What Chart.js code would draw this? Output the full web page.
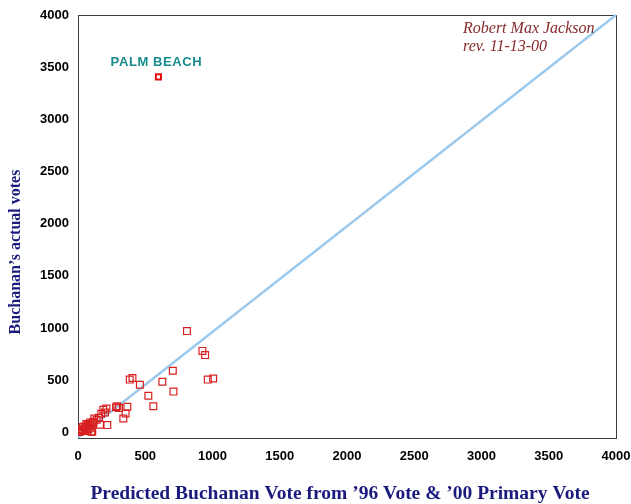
<!DOCTYPE html>
<html>
<head>
<meta charset="utf-8">
<script src="https://cdn.jsdelivr.net/npm/chart.js@4/dist/chart.umd.min.js"></script>
<style>
  html, body { margin: 0; padding: 0; background: #ffffff; }
  #wrap { width: 631px; height: 504px; position: relative; }
</style>
</head>
<body>
<div id="wrap"><canvas id="c"></canvas></div>
<script>
// Counties: predicted Buchanan vote (from '96 vote & '00 primary) vs. actual vote
const predictedVotes = [810, 925, 945, 705, 965, 1005, 385, 405, 460, 627, 710, 523, 560, 367, 292,
  283, 305, 354, 337, 211, 201, 188, 156, 173, 121, 139, 218, 164, 109, 106, 74, 57, 94, 40, 106,
  20, 69, 99, 7, 30, 48, 85, 62, 25, 12, 35, 78, 115, 52, 90];
const actualVotes = [970, 780, 740, 590, 505, 515, 505, 520, 455, 485, 390, 350, 250, 245, 250,
  240, 232, 180, 132, 228, 190, 216, 139, 177, 132, 120, 69, 72, 88, 84, 69, 43, 43, 21, 8,
  10, 12, 5, 2, 30, 55, 60, 80, 15, 8, 50, 30, 100, 20, 95];

// Palm Beach county, the outlier
const palmBeachPredicted = 598;
const palmBeachActual = 3407;

// Reference line: predicted equals actual
const refLineX = [0, 4000];
const refLineY = [-50, 4000];

// Axis ticks
const xTicks = [0, 500, 1000, 1500, 2000, 2500, 3000, 3500, 4000];
const yTicks = [0, 500, 1000, 1500, 2000, 2500, 3000, 3500, 4000];

const countyPoints = predictedVotes.map((x, i) => ({ x: x, y: actualVotes[i] }));
const refLine = refLineX.map((x, i) => ({ x: x, y: refLineY[i] }));

const NAVY = '#1b1b7e';
const SERIF = '"Liberation Serif", "Times New Roman", serif';
const SANS = '"Liberation Sans", Arial, sans-serif';

// Plot frame and free text
const decorPlugin = {
  id: 'decor',
  beforeDatasetsDraw(chart) {
    const a = chart.chartArea;
    const ctx = chart.ctx;
    ctx.save();
    ctx.strokeStyle = '#3c3c3c';
    ctx.lineWidth = 1;
    ctx.strokeRect(Math.round(a.left) + 0.5, Math.round(a.top) + 0.5,
      Math.round(a.right - a.left), Math.round(a.bottom - a.top));
    ctx.restore();
  },
  afterDatasetsDraw(chart) {
    const a = chart.chartArea;
    const ctx = chart.ctx;
    const xs = chart.scales.x, ys = chart.scales.y;
    ctx.save();
    ctx.textBaseline = 'middle';

    // Outlier label
    const px = xs.getPixelForValue(palmBeachPredicted);
    const py = ys.getPixelForValue(palmBeachActual);
    ctx.fillStyle = '#178a8a';
    ctx.font = 'bold 13px ' + SANS;
    ctx.textAlign = 'center';
    if ('letterSpacing' in ctx) ctx.letterSpacing = '0.6px';
    ctx.fillText('PALM BEACH', px - 2, py - 14);
    if ('letterSpacing' in ctx) ctx.letterSpacing = '0px';

    // Author note
    ctx.fillStyle = '#862a2a';
    ctx.font = 'italic 16px ' + SERIF;
    ctx.textAlign = 'left';
    ctx.fillText('Robert Max Jackson', a.right - 153, 29);
    ctx.fillText('rev. 11-13-00', a.right - 153, 47);

    // Axis titles
    ctx.fillStyle = NAVY;
    ctx.font = 'bold 19.5px ' + SERIF;
    ctx.textAlign = 'center';
    ctx.fillText('Predicted Buchanan Vote from \u201996 Vote & \u201900 Primary Vote', 340, 494);

    ctx.translate(16, 252);
    ctx.rotate(-Math.PI / 2);
    ctx.font = 'bold 16px ' + SERIF;
    ctx.fillText('Buchanan\u2019s actual votes', 0, 0);
    ctx.restore();
  }
};

const plainLabel = v => String(v);

new Chart(document.getElementById('c'), {
  type: 'scatter',
  data: {
    datasets: [
      {
        label: 'Counties',
        data: countyPoints,
        pointStyle: 'rect',
        pointRadius: 4.8,
        pointHoverRadius: 4.8,
        borderColor: '#d82020',
        backgroundColor: 'rgba(255,255,255,0)',
        borderWidth: 1.2,
        order: 1
      },
      {
        label: 'Palm Beach',
        data: [{ x: palmBeachPredicted, y: palmBeachActual }],
        pointStyle: 'rect',
        pointRadius: 3.6,
        borderColor: '#e01010',
        backgroundColor: '#ffffff',
        borderWidth: 2,
        order: 0
      },
      {
        type: 'line',
        label: 'Predicted = actual',
        data: refLine,
        borderColor: '#9ccaee',
        borderWidth: 2.5,
        pointRadius: 0,
        fill: false,
        clip: false,
        order: 2
      }
    ]
  },
  options: {
    responsive: true,
    maintainAspectRatio: false,
    animation: false,
    events: [],
    layout: { padding: { left: 0, top: 15, right: 15, bottom: 0 } },
    plugins: {
      legend: { display: false },
      tooltip: { enabled: false },
      title: { display: false }
    },
    scales: {
      x: {
        type: 'linear',
        min: 0,
        max: 4000,
        afterBuildTicks(scale) { scale.ticks = xTicks.map(v => ({ value: v })); },
        afterFit(scale) {
          scale.height = 66.5;
          scale.paddingLeft = 0;
          scale.paddingRight = 0;
        },
        grid: { display: false, drawTicks: false },
        border: { display: false },
        ticks: {
          padding: 11,
          color: '#000000',
          font: { family: SANS, size: 13, weight: 'bold' },
          maxRotation: 0,
          callback: plainLabel
        }
      },
      y: {
        type: 'linear',
        min: -50,
        max: 4000,
        afterBuildTicks(scale) { scale.ticks = yTicks.map(v => ({ value: v })); },
        afterFit(scale) {
          scale.width = 78;
          scale.paddingTop = 0;
          scale.paddingBottom = 0;
        },
        grid: { display: false, drawTicks: false },
        border: { display: false },
        ticks: {
          padding: 9,
          color: '#000000',
          font: { family: SANS, size: 13, weight: 'bold' },
          callback: plainLabel
        }
      }
    }
  },
  plugins: [decorPlugin]
});
</script>
</body>
</html>
